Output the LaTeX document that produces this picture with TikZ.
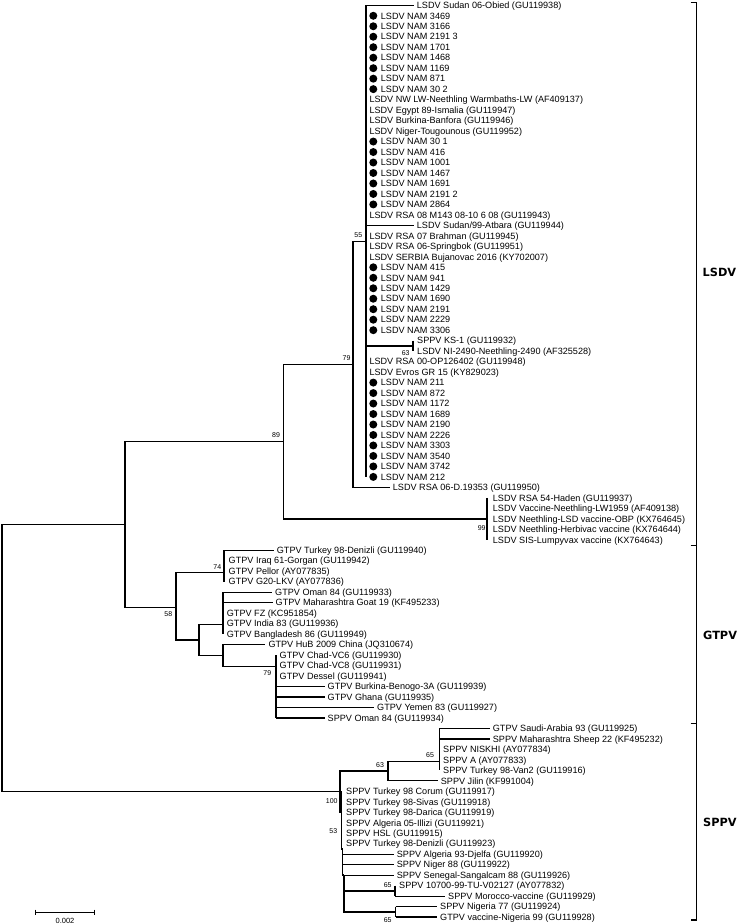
\documentclass[tikz,border=0pt]{standalone}
\usepackage{fontspec}
\setmainfont{Liberation Sans}
\newfontfamily\cladefont{DejaVu Sans}
\newcommand\leafy[1]{5.3+10.48*#1}
\newcommand\lf[3]{\node[lbl] (l#1) at ({#2-3},{\leafy{#1}}) {#3};}
\newcommand\dl[2]{\node[ndot] (d#1) at (373.3,{\leafy{#1}}) {};\node[lbl] (l#1) at (377.7,{\leafy{#1}}) {LSDV NAM #2};}
\tikzset{
  tbr/.style={line width=1.2pt},
  lbl/.style={anchor=west, inner xsep=3pt, inner ysep=0pt, text height=6.5pt, text depth=0pt, font=\fontsize{9.1}{10}\selectfont},
  ndot/.style={circle, fill=black, inner sep=0pt, minimum size=8pt},
  bsl/.style={font=\fontsize{7}{8}\selectfont, inner sep=0pt},
  cladel/.style={font={\cladefont\bfseries\fontsize{11.3}{13}\selectfont}, anchor=west, inner sep=0pt},
}
\begin{document}
\begin{tikzpicture}[x=1pt,y=-1pt]
\useasboundingbox (0,0) rectangle (738,924);
% ---------- leaves ----------
\lf{0}{416.7}{LSDV Sudan 06-Obied (GU119938)}
\dl{1}{3469}\dl{2}{3166}\dl{3}{2191 3}\dl{4}{1701}\dl{5}{1468}\dl{6}{1169}\dl{7}{871}\dl{8}{30 2}
\lf{9}{369.3}{LSDV NW LW-Neethling Warmbaths-LW (AF409137)}
\lf{10}{369.3}{LSDV Egypt 89-Ismalia (GU119947)}
\lf{11}{369.3}{LSDV Burkina-Banfora (GU119946)}
\lf{12}{369.3}{LSDV Niger-Tougounous (GU119952)}
\dl{13}{30 1}\dl{14}{416}\dl{15}{1001}\dl{16}{1467}\dl{17}{1691}\dl{18}{2191 2}\dl{19}{2864}
\lf{20}{369.3}{LSDV RSA 08 M143 08-10 6 08 (GU119943)}
\lf{21}{416.7}{LSDV Sudan/99-Atbara (GU119944)}
\lf{22}{369.3}{LSDV RSA 07 Brahman (GU119945)}
\lf{23}{369.3}{LSDV RSA 06-Springbok (GU119951)}
\lf{24}{369.3}{LSDV SERBIA Bujanovac 2016 (KY702007)}
\dl{25}{415}\dl{26}{941}\dl{27}{1429}\dl{28}{1690}\dl{29}{2191}\dl{30}{2229}\dl{31}{3306}
\lf{32}{417}{SPPV KS-1 (GU119932)}
\lf{33}{417}{LSDV NI-2490-Neethling-2490 (AF325528)}
\lf{34}{369.3}{LSDV RSA 00-OP126402 (GU119948)}
\lf{35}{369.3}{LSDV Evros GR 15 (KY829023)}
\dl{36}{211}\dl{37}{872}\dl{38}{1172}\dl{39}{1689}\dl{40}{2190}\dl{41}{2226}\dl{42}{3303}\dl{43}{3540}\dl{44}{3742}\dl{45}{212}
\lf{46}{392.7}{LSDV RSA 06-D.19353 (GU119950)}
\lf{47}{492.7}{LSDV RSA 54-Haden (GU119937)}
\lf{48}{492.7}{LSDV Vaccine-Neethling-LW1959 (AF409138)}
\lf{49}{492.7}{LSDV Neethling-LSD vaccine-OBP (KX764645)}
\lf{50}{492.7}{LSDV Neethling-Herbivac vaccine (KX764644)}
\lf{51}{492.7}{LSDV SIS-Lumpyvax vaccine (KX764643)}
\lf{52}{276.7}{GTPV Turkey 98-Denizli (GU119940)}
\lf{53}{228.5}{GTPV Iraq 61-Gorgan (GU119942)}
\lf{54}{228.5}{GTPV Pellor (AY077835)}
\lf{55}{228.5}{GTPV G20-LKV (AY077836)}
\lf{56}{275}{GTPV Oman 84 (GU119933)}
\lf{57}{275.5}{GTPV Maharashtra Goat 19 (KF495233)}
\lf{58}{226.7}{GTPV FZ (KC951854)}
\lf{59}{226.7}{GTPV India 83 (GU119936)}
\lf{60}{226.7}{GTPV Bangladesh 86 (GU119949)}
\lf{61}{268.3}{GTPV HuB 2009 China (JQ310674)}
\lf{62}{279.5}{GTPV Chad-VC6 (GU119930)}
\lf{63}{279.5}{GTPV Chad-VC8 (GU119931)}
\lf{64}{279.5}{GTPV Dessel (GU119941)}
\lf{65}{327.5}{GTPV Burkina-Benogo-3A (GU119939)}
\lf{66}{327.5}{GTPV Ghana (GU119935)}
\lf{67}{377}{GTPV Yemen 83 (GU119927)}
\lf{68}{327.5}{SPPV Oman 84 (GU119934)}
\lf{69}{492.7}{GTPV Saudi-Arabia 93 (GU119925)}
\lf{70}{492.7}{SPPV Maharashtra Sheep 22 (KF495232)}
\lf{71}{443}{SPPV NISKHI (AY077834)}
\lf{72}{443}{SPPV A (AY077833)}
\lf{73}{443}{SPPV Turkey 98-Van2 (GU119916)}
\lf{74}{440.7}{SPPV Jilin (KF991004)}
\lf{75}{346}{SPPV Turkey 98 Corum (GU119917)}
\lf{76}{346}{SPPV Turkey 98-Sivas (GU119918)}
\lf{77}{346}{SPPV Turkey 98-Darica (GU119919)}
\lf{78}{346}{SPPV Algeria 05-Illizi (GU119921)}
\lf{79}{346}{SPPV HSL (GU119915)}
\lf{80}{346}{SPPV Turkey 98-Denizli (GU119923)}
\lf{81}{396.7}{SPPV Algeria 93-Djelfa (GU119920)}
\lf{82}{396.7}{SPPV Niger 88 (GU119922)}
\lf{83}{396.7}{SPPV Senegal-Sangalcam 88 (GU119926)}
\lf{84}{399}{SPPV 10700-99-TU-V02127 (AY077832)}
\lf{85}{448}{SPPV Morocco-vaccine (GU119929)}
\lf{86}{440}{SPPV Nigeria 77 (GU119924)}
\lf{87}{440}{GTPV vaccine-Nigeria 99 (GU119928)}
% ---------- internal nodes ----------
\coordinate (root) at (2,658);
\coordinate (nA) at (125,524.6);
\coordinate (n89) at (283.3,441.5);
\coordinate (n79) at (353,364.2);
\coordinate (n55) at (366,241.1);
\coordinate (n63a) at (413,345.9);
\coordinate (n99) at (487,518.9);
\coordinate (n58) at (176,607.7);
\coordinate (n74) at (224,572.7);
\coordinate (nB) at (199,640);
\coordinate (nC) at (223,624.3);
\coordinate (nD) at (223,655.7);
\coordinate (n79g) at (276,666.7);
\coordinate (n100) at (340,791.5);
\coordinate (n63s) at (388,771);
\coordinate (n65a) at (439.3,761.7);
\coordinate (n53) at (341.3,812);
\coordinate (nE) at (342.6,849);
\coordinate (nF) at (344,875);
\coordinate (n65b) at (395,890.9);
\coordinate (n65c) at (395.7,911.9);
% ---------- branches ----------
\begin{scope}[tbr]
\draw (root) |- (nA);
\draw (root) |- (n100);
\draw (nA) |- (n89);
\draw (nA) |- (n58);
\draw (n89) |- (n79);
\draw (n89) |- (n99);
\draw (n79) |- (n55);
\draw (n79) |- (l46.west);
\draw (n55 |- l0) -- (n55 |- d45);
\draw (n55 |- l0) -- (l0.west);
\draw (n55 |- l21) -- (l21.west);
\draw (n55) |- (n63a);
\draw (n63a |- l32) -- (n63a |- l33);
\draw (n99 |- l47) -- (n99 |- l51);
\draw (n58) |- (n74);
\draw (n58) |- (nB);
\draw (n74 |- l52) -- (n74 |- l55);
\draw (n74 |- l52) -- (l52.west);
\draw (nB) |- (nC);
\draw (nB) |- (nD);
\draw (nC |- l56) -- (nC |- l60);
\draw (nC |- l56) -- (l56.west);
\draw (nC |- l57) -- (l57.west);
\draw (nD) |- (l61.west);
\draw (nD) |- (n79g);
\draw (n79g |- l62) -- (n79g |- l68);
\draw (n79g |- l65) -- (l65.west);
\draw (n79g |- l66) -- (l66.west);
\draw (n79g |- l67) -- (l67.west);
\draw (n79g |- l68) -- (l68.west);
\draw (n100) |- (n63s);
\draw (n100) |- (n53);
\draw (n63s) |- (n65a);
\draw (n63s) |- (l74.west);
\draw (n65a |- l69) -- (n65a |- l73);
\draw (n65a |- l69) -- (l69.west);
\draw (n65a |- l70) -- (l70.west);
\draw (n53 |- l75) -- (n53 |- nE) -- (nE);
\draw (nE) -- (nE |- nF) -- (nF);
\draw (nE |- l81) -- (l81.west);
\draw (nE |- l82) -- (l82.west);
\draw (nE |- l83) -- (l83.west);
\draw (nF) |- (n65b);
\draw (nF) |- (n65c);
\draw (n65b |- l84) -- (n65b |- l85);
\draw (n65b |- l85) -- (l85.west);
\draw (n65c |- l86) -- (n65c |- l87);
\draw (n65c |- l86) -- (l86.west);
\draw (n65c |- l87) -- (l87.west);
\end{scope}
% ---------- bootstrap values ----------
\node[bsl] (b89) at (276,435) {89};
\node[bsl] (b79a) at (346.5,358.3) {79};
\node[bsl] (b55) at (358.3,235) {55};
\node[bsl] (b63a) at (405.7,353.3) {63};
\node[bsl] (b99) at (481.7,527.7) {99};
\node[bsl] (b74) at (217.3,567.3) {74};
\node[bsl] (b58) at (168.3,614.3) {58};
\node[bsl] (b79g) at (267.3,673.3) {79};
\node[bsl] (b63s) at (380,765) {63};
\node[bsl] (b65a) at (430,755) {65};
\node[bsl] (b100) at (331.7,800.7) {100};
\node[bsl] (b53) at (333.3,830.7) {53};
\node[bsl] (b65b) at (387.7,885) {65};
\node[bsl] (b65c) at (387.7,920) {65};
% ---------- scale bar ----------
\coordinate (sbL) at (35.7,912.3);
\coordinate (sbR) at (94,912.3);
\draw[line width=0.9pt] (sbL) -- (sbR);
\draw[line width=0.9pt] ([yshift=2.6pt]sbL) -- ([yshift=-2.6pt]sbL);
\draw[line width=0.9pt] ([yshift=2.6pt]sbR) -- ([yshift=-2.6pt]sbR);
\node[font=\fontsize{7.5}{9}\selectfont, inner sep=0pt] (sbt) at (65,920.5) {0.002};
% ---------- clade brackets ----------
\coordinate (brT) at (696.7,2.5);
\coordinate (brM1) at (696.7,545.7);
\coordinate (brM2) at (696.7,723.3);
\coordinate (brB) at (696.7,920);
\draw[line width=1.2pt] ([xshift=-6pt]brT) -- (brT) -- (brB) -- ([xshift=-6pt]brB);
\draw[line width=1.2pt] ([xshift=-6pt]brM1) -- (brM1);
\draw[line width=1.2pt] ([xshift=-6pt]brM2) -- (brM2);
\node[cladel] (cL) at (702.5,272.5) {LSDV};
\node[cladel] (cG) at (703,635) {GTPV};
\node[cladel] (cS) at (703,822) {SPPV};
\end{tikzpicture}
\end{document}
